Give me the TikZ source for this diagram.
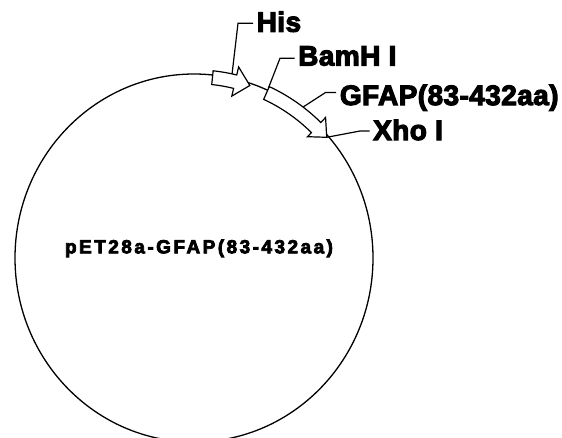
\documentclass[tikz,border=0pt]{standalone}
\usepackage{fontspec}
\usetikzlibrary{shapes.geometric}
\newfontfamily\labfont{Liberation Sans Bold}[FakeBold=4,LetterSpace=1.5]
\newfontfamily\cfont{Liberation Sans Bold}[FakeBold=4,LetterSpace=13]
\begin{document}
\begin{tikzpicture}[x=1pt,y=-1pt,line join=miter,
  lab/.style={font=\labfont\fontsize{28}{28}\selectfont, anchor=base west, inner xsep=3.5pt, inner ysep=0pt},
  gene/.style={draw=black, fill=white, line width=1.2pt},
  leader/.style={draw=black, line width=1.2pt}]
\useasboundingbox (0,0) rectangle (562,437);
\fill[white] (0,0) rectangle (562,437);
% plasmid backbone
\node[draw, ellipse, minimum width=358pt, minimum height=368pt, inner sep=0pt, line width=1.3pt] (plasmid) at (194,258) {};
% His tag arrow
\draw[gene] plot[domain=6:13.5, samples=15] ({194+179*1.023*sin(\x)},{258-184*1.023*cos(\x)})
 -- ({194+179*1.068*sin(13.5)},{258-184*1.068*cos(13.5)})
 -- ({194+179*0.988*sin(18.4)},{258-184*0.988*cos(18.4)})
 -- ({194+179*0.905*sin(13.5)},{258-184*0.905*cos(13.5)})
 -- plot[domain=13.5:6, samples=15] ({194+179*0.948*sin(\x)},{258-184*0.948*cos(\x)}) -- cycle;
% GFAP arrow
\draw[gene] plot[domain=24.3:43.9, samples=25] ({194+179*1.022*sin(\x)},{258-184*1.022*cos(\x)})
 -- ({194+179*1.06*sin(43.9)},{258-184*1.06*cos(43.9)})
 -- ({194+179*0.99*sin(48.5)},{258-184*0.99*cos(48.5)})
 -- ({194+179*0.915*sin(43.9)},{258-184*0.915*cos(43.9)})
 -- plot[domain=43.9:24.3, samples=25] ({194+179*0.946*sin(\x)},{258-184*0.946*cos(\x)}) -- cycle;
% attachment points and corners
\coordinate (hisA) at ({194+179*1.023*sin(12)},{258-184*1.023*cos(12)});
\coordinate (bamA) at (268.3,88.3);
\coordinate (gfapA) at ({194+179*1.022*sin(36.6)},{258-184*1.022*cos(36.6)});
\coordinate (xhoA) at ({194+179*0.99*sin(48.5)},{258-184*0.99*cos(48.5)});
\coordinate (hisK) at (238,23.3);
\coordinate (bamK) at (280,58.3);
\coordinate (gfapK) at (325.5,92.5);
\coordinate (xhoK) at (360,131);
% labels
\node[lab] (his) at (253,31.7) {His};
\node[lab] (bam) at (294.5,65.5) {BamH I};
\node[lab] (gfap) at (336.2,105) {GFAP(83-432aa)};
\node[lab] (xho) at (369.5,140) {Xho I};
\node[font=\cfont\fontsize{19}{19}\selectfont, anchor=base, inner sep=0pt] (name) at (199,253.3) {pET28a-GFAP(83-432aa)};
% leaders
\draw[leader] (hisA) -- (hisK) -- (hisK -| his.west);
\draw[leader] (bamA) -- (bamK) -- (bamK -| bam.west);
\draw[leader] (gfapA) -- (gfapK) -- (gfapK -| gfap.west);
\draw[leader] (xhoA) -- (xhoK) -- (xhoK -| xho.west);
\end{tikzpicture}
\end{document}
